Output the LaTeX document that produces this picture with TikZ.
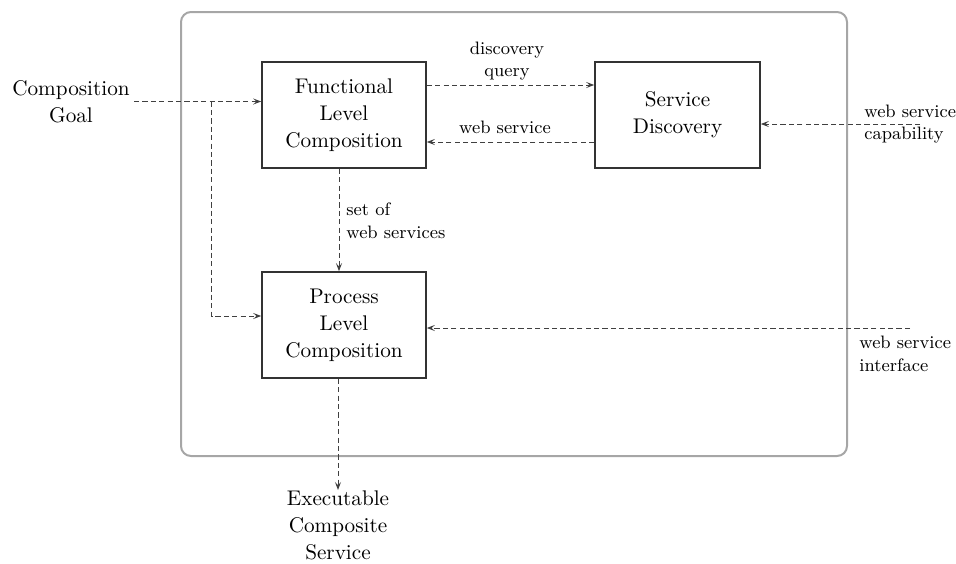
\documentclass[tikz,border=0pt]{standalone}
\usetikzlibrary{arrows.meta}

\newcommand{\boxfont}{\fontsize{10.6}{13.5}\selectfont}
\newcommand{\lblfont}{\fontsize{9}{11.3}\selectfont}

\tikzset{
  block/.style={draw=black!80, line width=0.8pt, minimum width=82pt,
    minimum height=53pt, align=center, font=\boxfont},
  flow/.style={draw=black!75, line width=0.5pt, dash pattern=on 2.6pt off 1.6pt,
    -{Stealth[length=4pt,width=3pt,inset=1.6pt]}},
  lbl/.style={font=\lblfont, inner sep=0pt},
}

\begin{document}
\begin{tikzpicture}[x=0.5pt, y=-0.5pt]
    \useasboundingbox (0,0) rectangle (956,563);

    % frame
    \draw[black!35, line width=1pt, rounded corners=5pt]
      (181,12) rectangle (847,456)
    ;

    % boxes
    \node[block] (func) at (344,115) {Functional\\Level\\Composition};
    \node[block, minimum width=82.5pt] (disc) at (677.5,115) {Service\\Discovery};
    \node[block] (proc) at (344,325) {Process\\Level\\Composition};

    % outside texts
    \node[align=center, font=\boxfont, inner sep=2pt] (goal) at (71,101.5)
      {Composition\\Goal};
    \node[align=center, font=\boxfont, inner sep=0pt, anchor=north] (exec) at (338,490)
      {Executable\\Composite\\Service};

    \coordinate (branch) at (211.5,101.5);
    \coordinate (capin) at (920,124);
    \coordinate (ifin) at (910,328);
    \coordinate (out) at (338,490);

    % connectors
    \draw[flow] (goal.east) -- (goal.east -| func.west);
    \draw[flow] (branch) |- ([yshift=4.5pt]proc.west);
    \draw[flow] ([yshift=15pt]func.east) -- ([yshift=15pt]disc.west);
    \draw[flow] ([yshift=-13.5pt]disc.west) -- ([yshift=-13.5pt]func.east);
    \draw[flow] (capin) -- (capin -| disc.east);
    \draw[flow] ([xshift=-2.5pt]func.south) -- ([xshift=-2.5pt]proc.north);
    \draw[flow] (ifin) -- (ifin -| proc.east);
    \draw[flow] ([xshift=-3pt]proc.south) -- (out);

    % labels
    \node[lbl, align=center] (lquery) at (507,61) {discovery\\query};
    \node[lbl] (lws) at (505,127) {web service};
    \node[lbl, align=left, anchor=west] (lcap) at (864,124) {web service\\capability};
    \node[lbl, align=left, anchor=west] (lset) at (346,221) {set of\\web services};
    \node[lbl, align=left, anchor=west] (lif) at (859,354) {web service\\interface};
\end{tikzpicture}
\end{document}
